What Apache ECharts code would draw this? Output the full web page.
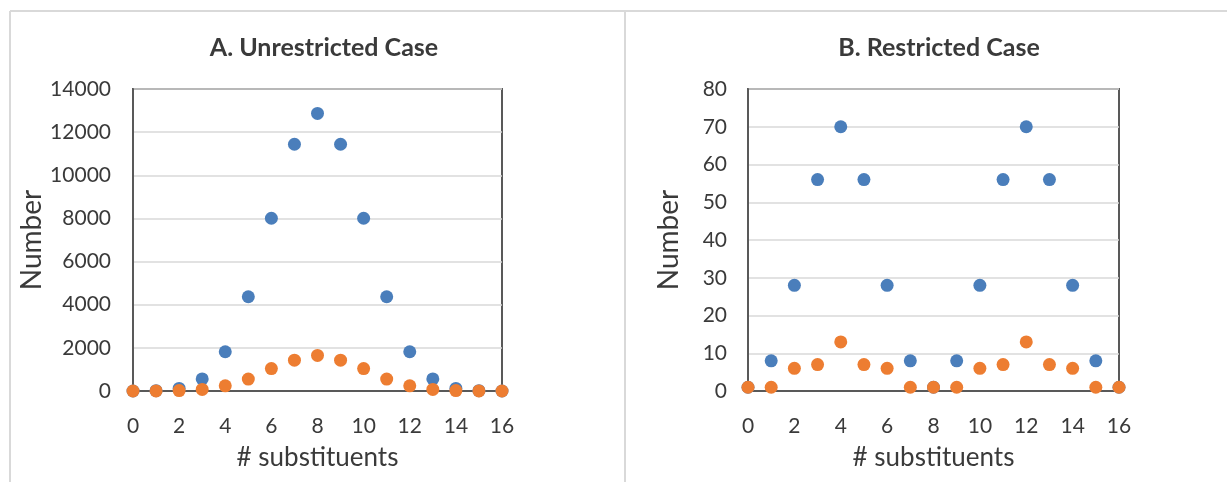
<!DOCTYPE html>
<html>
<head>
<meta charset="utf-8">
<script src="https://cdn.jsdelivr.net/npm/echarts@6/dist/echarts.min.js"></script>
<style>
html,body{margin:0;padding:0;background:#fff;}
#c{width:1227px;height:482px;}
</style>
</head>
<body>
<div id="c"></div>
<script>
const substituents = [0,1,2,3,4,5,6,7,8,9,10,11,12,13,14,15,16];
const unrestrictedBlue = [1,16,120,560,1820,4368,8008,11440,12870,11440,8008,4368,1820,560,120,16,1];
const unrestrictedOrange = [1,2,19,74,238,552,1040,1430,1650,1430,1040,552,238,74,19,2,1];
const restrictedBlue = [1,8,28,56,70,56,28,8,1,8,28,56,70,56,28,8,1];
const restrictedOrange = [1,1,6,7,13,7,6,1,1,1,6,7,13,7,6,1,1];
const titles = ['A. Unrestricted Case','B. Restricted Case'];
const xName = '# substituents';
const yName = 'Number';

const FONT = 'Lato';
const BLUE = '#4A7EBB';
const ORANGE = '#ED7D31';
const TEXT = '#3a3a3a';
const pair = (xs, ys) => xs.map((x, i) => [x, ys[i]]);

function xAxis(gi){
  return {
    type:'value', gridIndex:gi, min:0, max:16, interval:2,
    name:xName, nameLocation:'middle', nameGap:54,
    nameTextStyle:{fontFamily:FONT, fontSize:26, color:TEXT},
    axisLine:{show:true, lineStyle:{color:'#595959', width:2}},
    axisTick:{show:false},
    axisLabel:{fontFamily:FONT, fontSize:21, color:TEXT, margin:25, formatter:v => String(v)},
    splitLine:{show:false}
  };
}
function yAxis(gi, max, interval, gap, lmargin){
  return {
    type:'value', gridIndex:gi, min:0, max:max, interval:interval,
    name:yName, nameLocation:'middle', nameGap:gap, nameRotate:90,
    nameTextStyle:{fontFamily:FONT, fontSize:28, color:TEXT},
    axisLine:{show:true, lineStyle:{color:'#595959', width:2}},
    axisTick:{show:false},
    axisLabel:{fontFamily:FONT, fontSize:21, color:TEXT, margin:lmargin, formatter:v => String(v)},
    splitLine:{show:true, lineStyle:{color:'#d9d9d9', width:1.5}}
  };
}
function scatter(xi, data, color){
  return {
    type:'scatter', xAxisIndex:xi, yAxisIndex:xi, data:data,
    symbol:'circle', symbolSize:13, clip:false,
    itemStyle:{color:color, opacity:1}, silent:true, animation:false
  };
}

const chart = echarts.init(document.getElementById('c'), null, {renderer:'canvas'});
chart.setOption({
  backgroundColor:'#ffffff',
  animation:false,
  title:[
    {text:titles[0], left:319, top:30, textAlign:'center',
     textStyle:{fontFamily:FONT, fontWeight:'bold', fontSize:25, color:TEXT}},
    {text:titles[1], left:934, top:30, textAlign:'center',
     textStyle:{fontFamily:FONT, fontWeight:'bold', fontSize:25, color:TEXT}}
  ],
  grid:[
    {left:133, top:89, width:369, height:302, show:true, borderColor:'#595959', borderWidth:2, backgroundColor:'transparent'},
    {left:748, top:89, width:371, height:302, show:true, borderColor:'#595959', borderWidth:2, backgroundColor:'transparent'}
  ],
  xAxis:[xAxis(0), xAxis(1)],
  yAxis:[yAxis(0, 14000, 2000, 87, 22), yAxis(1, 80, 10, 65, 21)],
  graphic:[
    {type:'line', shape:{x1:10, y1:11, x2:1227, y2:11}, style:{stroke:'#d9d9d9', lineWidth:2}, silent:true},
    {type:'line', shape:{x1:10, y1:11, x2:10, y2:482}, style:{stroke:'#d9d9d9', lineWidth:2}, silent:true},
    {type:'line', shape:{x1:625, y1:11, x2:625, y2:482}, style:{stroke:'#d9d9d9', lineWidth:2}, silent:true}
  ],
  series:[
    scatter(0, pair(substituents, unrestrictedBlue), BLUE),
    scatter(0, pair(substituents, unrestrictedOrange), ORANGE),
    scatter(1, pair(substituents, restrictedBlue), BLUE),
    scatter(1, pair(substituents, restrictedOrange), ORANGE)
  ]
});
</script>
</body>
</html>
